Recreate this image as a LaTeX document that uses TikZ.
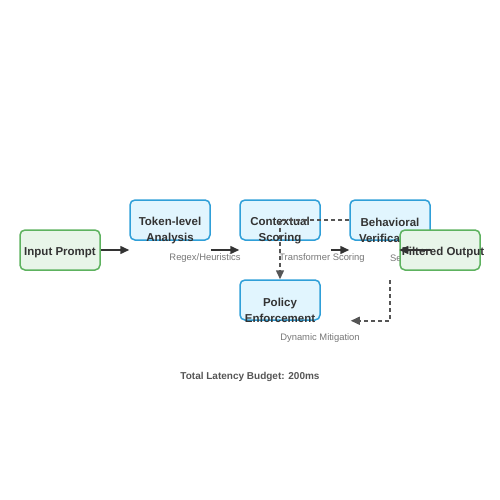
\documentclass[tikz,border=0pt]{standalone}
\usepackage{fontspec}
\setmainfont{Liberation Sans}
\usetikzlibrary{arrows.meta}
\definecolor{stagefill}{HTML}{E1F5FE}
\definecolor{stageline}{HTML}{2F9FD8}
\definecolor{iofill}{HTML}{E8F5E9}
\definecolor{ioline}{HTML}{5DB25F}
\definecolor{textgray}{HTML}{333333}
\definecolor{notegray}{HTML}{777777}
\definecolor{dashgray}{HTML}{555555}
\tikzset{
  stagebox/.style={draw=stageline, fill=stagefill, line width=1.5pt, rounded corners=5pt,
    minimum width=80pt, minimum height=40pt, inner sep=0pt},
  iobox/.style={draw=ioline, fill=iofill, line width=1.5pt, rounded corners=5pt,
    minimum width=80pt, minimum height=40pt, inner sep=0pt},
  boxtext/.style={font=\fontsize{11.5}{16}\selectfont\bfseries, text=textgray, align=center, inner sep=0pt},
  note/.style={font=\fontsize{9.4}{9.4}\selectfont, text=notegray, inner sep=0pt},
  flow/.style={-{Triangle[length=9pt,width=8pt]}, line width=1.5pt, draw=textgray},
  feedback/.style={-{Triangle[length=9pt,width=8pt]}, line width=1.5pt, draw=dashgray,
    dash pattern=on 4pt off 3pt}
}
\begin{document}
\begin{tikzpicture}[x=1pt, y=-1pt]
    \useasboundingbox (0,0) rectangle (500,500);

    % Stage boxes
    \node[iobox] (inp) at (60,250) {};
    \node[boxtext] (inptext) at (60,252.5) {Input Prompt};
    \node[stagebox] (tok) at (170,220) {};
    \node[boxtext] (toktext) at (170,230.5) {Token-level\\Analysis};
    \node[stagebox] (ctx) at (280,220) {};
    \node[boxtext] (ctxtext) at (280,230.5) {Contextual\\Scoring};
    \node[stagebox] (beh) at (390,220) {};
    \node[boxtext] (behtext) at (390,230.5) {Behavioral\\Verification};
    \node[stagebox] (pol) at (280,300) {};
    \node[boxtext] (poltext) at (280,310.5) {Policy\\Enforcement};

    % Labels under the arrows
    \node[note] (regex) at (205,258) {Regex/Heuristics};
    \node[note] (trans) at (322,258) {Transformer Scoring};
    \node[note, anchor=west] (sem) at (390,258) {Se};
    \node[note] (mitig) at (320,338) {Dynamic Mitigation};

    % Output on top
    \node[iobox] (out) at (440,250) {};
    \node[boxtext] (outtext) at (443,252.5) {Filtered Output};

    % Forward flow
    \draw[flow] (inp.east) -- (tok.west |- inp.east);
    \draw[flow] (tok.east |- inp.east) -- (ctx.west |- inp.east);
    \draw[flow] ([xshift=10pt]ctx.east |- inp.east) -- (beh.west |- inp.east);
    \draw[flow] (beh.east |- inp.east) -- (out.west);

    % Feedback loops
    \draw[feedback] (beh.west) -- (ctx.center) -- (pol.north);
    \coordinate (loopstart) at (390,280);
    \draw[feedback] (loopstart) -- (loopstart |- pol.south) -- ([xshift=30pt]pol.east |- pol.south);

    % Budget
    \node[font=\fontsize{10}{10}\selectfont\bfseries, text=dashgray] (budget) at (250,377) {Total Latency Budget: 200ms};
\end{tikzpicture}
\end{document}
